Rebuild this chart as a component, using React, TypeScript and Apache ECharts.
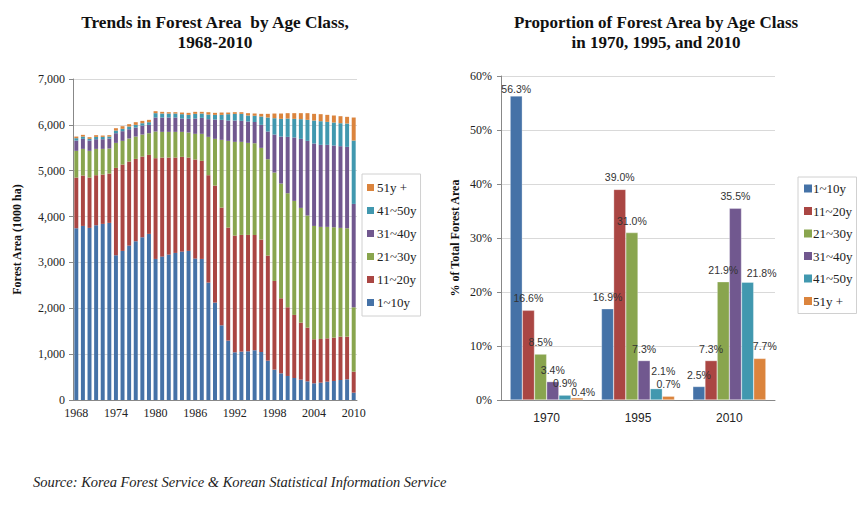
import React, { useEffect, useRef } from "react";
import * as echarts from "echarts";

const years: string[] = [];
for (let y = 1968; y <= 2010; y++) years.push(String(y));

const seriesNames = ["1~10y", "11~20y", "21~30y", "31~40y", "41~50y", "51y +"];
const colors = ["#4572A7", "#AA4643", "#89A54E", "#71588F", "#4198AF", "#DB843D"];

// Left chart: forest area (1000 ha) by age class, 1968-2010
const age1to10 = [3745, 3796, 3753, 3811, 3840, 3862, 3156, 3251, 3367, 3462, 3549, 3622, 3076, 3127, 3171, 3207, 3236, 3251, 3084, 3076, 2560, 2124, 1629, 1295, 1040, 1055, 1062, 1084, 1047, 858, 662, 582, 524, 480, 444, 407, 364, 378, 400, 415, 436, 451, 160];
const age11to20 = [1106, 1099, 1098, 1091, 1076, 1076, 1906, 1884, 1833, 1796, 1760, 1723, 2197, 2160, 2116, 2080, 2066, 2036, 2160, 2139, 2342, 2552, 2567, 2465, 2545, 2545, 2538, 2516, 2451, 2291, 1934, 1636, 1498, 1375, 1243, 1171, 960, 953, 945, 945, 946, 931, 458];
const age21to30 = [582, 581, 582, 574, 560, 546, 545, 516, 502, 487, 480, 473, 582, 560, 560, 560, 545, 546, 560, 589, 836, 1019, 1477, 1891, 2044, 2029, 2007, 2000, 2000, 2102, 2364, 2502, 2487, 2487, 2502, 2444, 2472, 2444, 2430, 2407, 2371, 2363, 1404];
const age31to40 = [225, 219, 225, 211, 211, 218, 211, 211, 203, 197, 196, 182, 305, 313, 313, 313, 291, 298, 334, 349, 386, 421, 436, 444, 466, 458, 466, 465, 502, 604, 829, 1025, 1229, 1382, 1506, 1629, 1797, 1789, 1789, 1782, 1782, 1775, 2254];
const age41to50 = [51, 50, 37, 51, 51, 43, 58, 51, 59, 58, 51, 58, 95, 87, 87, 87, 95, 87, 102, 94, 101, 102, 109, 138, 145, 153, 131, 131, 182, 305, 356, 386, 400, 407, 429, 458, 502, 516, 501, 502, 501, 509, 1382];
const age51plus = [36, 37, 36, 37, 29, 30, 51, 58, 51, 58, 51, 51, 43, 37, 29, 29, 36, 44, 44, 37, 51, 44, 51, 36, 36, 36, 51, 51, 58, 80, 102, 116, 117, 124, 131, 146, 145, 153, 153, 153, 153, 146, 502];
const areaData = [age1to10, age11to20, age21to30, age31to40, age41to50, age51plus];

// Right chart: % of total forest area
const propYears = ["1970", "1995", "2010"];
const pct1to10 = [56.3, 16.9, 2.5];
const pct11to20 = [16.6, 39.0, 7.3];
const pct21to30 = [8.5, 31.0, 21.9];
const pct31to40 = [3.4, 7.3, 35.5];
const pct41to50 = [0.9, 2.1, 21.8];
const pct51plus = [0.4, 0.7, 7.7];
const pctData = [pct1to10, pct11to20, pct21to30, pct31to40, pct41to50, pct51plus];

const SERIF = "'Liberation Serif', 'Times New Roman', serif";
const SANS = "'Liberation Sans', Arial, sans-serif";

// label placement tweaks (distance above bar, horizontal offset), by "series-category"
const DEFAULT_LABEL_DIST = 6.5;
const labelTweaks: Record<string, { d?: number; dx?: number }> = {
  "0-0": { d: 1.5 },
  "5-0": { d: 0, dx: 6 },
  "4-1": { d: 12.5, dx: 7 },
  "4-2": { d: 4, dx: 14 },
  "5-2": { dx: 5 },
};

export default function App() {
  const ref = useRef<HTMLDivElement>(null);
  useEffect(() => {
    if (!ref.current) return;
    const chart = echarts.init(ref.current, undefined, { renderer: "svg" });
    const series: any[] = [];
    areaData.forEach((d, i) => {
      series.push({
        name: seriesNames[i],
        type: "bar",
        stack: "area",
        xAxisIndex: 0,
        yAxisIndex: 0,
        data: d,
        barCategoryGap: "40%",
        itemStyle: { color: colors[i] },
      });
    });
    pctData.forEach((d, i) => {
      series.push({
        name: seriesNames[i],
        type: "bar",
        xAxisIndex: 1,
        yAxisIndex: 1,
        data: d.map((v, j) => {
          const t = labelTweaks[i + "-" + j];
          if (!t) return v;
          return {
            value: v,
            label: {
              distance: t.d !== undefined ? t.d : DEFAULT_LABEL_DIST,
              offset: [t.dx || 0, 0],
            },
          };
        }),
        barGap: "0%",
        barCategoryGap: "20%",
        itemStyle: { color: colors[i], borderColor: "rgba(255,255,255,0.6)", borderWidth: 0.5 },
        label: {
          show: true,
          position: "top",
          distance: DEFAULT_LABEL_DIST,
          fontFamily: SANS,
          fontSize: 10.5,
          color: "#333",
          formatter: (p: any) => Number(p.value).toFixed(1) + "%",
        },
      });
    });
    chart.setOption({
      animation: false,
      backgroundColor: "#fff",
      title: [
        {
          text: "Trends in Forest Area  by Age Class,\n1968-2010",
          left: 210,
          top: 7,
          textAlign: "center",
          textStyle: { fontFamily: SERIF, fontSize: 17.3, fontWeight: "bold", color: "#111", lineHeight: 20 },
        },
        {
          text: "Proportion of Forest Area by Age Class\nin 1970, 1995, and 2010",
          left: 651,
          top: 7,
          textAlign: "center",
          textStyle: { fontFamily: SERIF, fontSize: 17, fontWeight: "bold", color: "#111", lineHeight: 20 },
        },
      ],
      legend: [
        {
          data: seriesNames.slice().reverse(),
          orient: "vertical",
          left: 362,
          top: 174,
          itemWidth: 7,
          itemHeight: 7,
          itemGap: 10,
          padding: [7, 4, 7, 5],
          borderColor: "#d0d0d0",
          borderWidth: 1,
          backgroundColor: "#fff",
          icon: "rect",
          selectedMode: false,
          textStyle: { fontFamily: SERIF, fontSize: 13, color: "#222", padding: [0, 0, 0, -2] },
        },
        {
          data: seriesNames,
          orient: "vertical",
          left: 798,
          top: 177,
          itemWidth: 8,
          itemHeight: 8,
          itemGap: 9.5,
          padding: [5, 4, 6, 6],
          borderColor: "#d0d0d0",
          borderWidth: 1,
          backgroundColor: "#fff",
          icon: "rect",
          selectedMode: false,
          textStyle: { fontFamily: SERIF, fontSize: 13, color: "#222", padding: [0, 0, 0, -4] },
        },
      ],
      grid: [
        { left: 73, top: 79, width: 284, height: 321, containLabel: false },
        { left: 501, top: 76, width: 274, height: 324, containLabel: false },
      ],
      xAxis: [
        {
          type: "category",
          gridIndex: 0,
          data: years,
          axisLine: { lineStyle: { color: "#888" } },
          axisTick: { interval: 0, length: 4, lineStyle: { color: "#888" } },
          axisLabel: { interval: 5, fontFamily: SERIF, fontSize: 12, color: "#222", margin: 7 },
        },
        {
          type: "category",
          gridIndex: 1,
          data: propYears,
          axisLine: { lineStyle: { color: "#888" } },
          axisTick: { length: 5, lineStyle: { color: "#888" } },
          axisLabel: { fontFamily: SANS, fontSize: 12, color: "#222", margin: 12 },
        },
      ],
      yAxis: [
        {
          type: "value",
          gridIndex: 0,
          min: 0,
          max: 7000,
          interval: 1000,
          name: "Forest Area (1000 ha)",
          nameLocation: "middle",
          nameRotate: 90,
          nameGap: 50,
          nameTextStyle: { fontFamily: SERIF, fontSize: 12, fontWeight: "bold", color: "#111" },
          axisLine: { show: true, lineStyle: { color: "#888" } },
          axisTick: { show: true, length: 4, lineStyle: { color: "#888" } },
          splitLine: { lineStyle: { color: "#d9d9d9" } },
          axisLabel: {
            fontFamily: SERIF,
            fontSize: 12,
            color: "#222",
            margin: 8,
            formatter: (v: number) => v.toLocaleString("en-US"),
          },
        },
        {
          type: "value",
          gridIndex: 1,
          min: 0,
          max: 60,
          interval: 10,
          name: "% of Total Forest Area",
          nameLocation: "middle",
          nameRotate: 90,
          nameGap: 40,
          nameTextStyle: { fontFamily: SERIF, fontSize: 12, fontWeight: "bold", color: "#111" },
          axisLine: { show: true, lineStyle: { color: "#888" } },
          axisTick: { show: true, length: 4, lineStyle: { color: "#888" } },
          splitLine: { lineStyle: { color: "#d9d9d9" } },
          axisLabel: { fontFamily: SERIF, fontSize: 12, color: "#222", margin: 9, formatter: "{value}%" },
        },
      ],
      graphic: [
        {
          type: "text",
          left: 33,
          top: 474,
          style: {
            text: "Source: Korea Forest Service & Korean Statistical Information Service",
            fontFamily: SERIF,
            fontStyle: "italic",
            fontSize: 14.5,
            fill: "#222",
          },
        },
      ],
      series,
    });
    return () => chart.dispose();
  }, []);
  return (
    <div
      ref={ref}
      style={{ position: "fixed", left: 0, top: 0, width: 857, height: 511, background: "#fff" }}
    />
  );
}
